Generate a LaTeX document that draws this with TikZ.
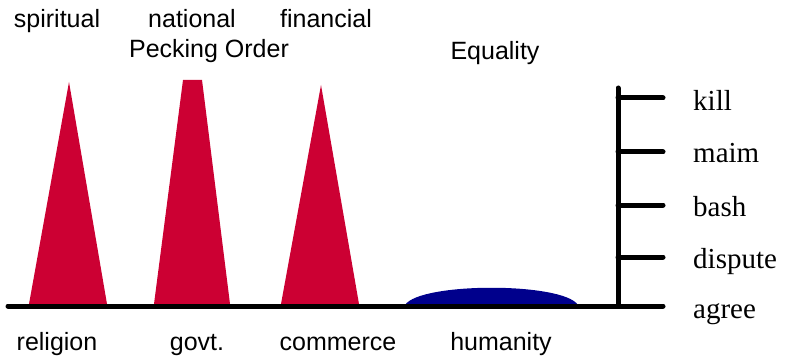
\documentclass[tikz,border=0pt]{standalone}
\usepackage{fontspec}
\setmainfont{Liberation Serif}
\setsansfont{Liberation Sans}
\usepackage{xcolor}
\definecolor{peckred}{RGB}{204,0,51}
\definecolor{equalblue}{RGB}{0,0,140}

\begin{document}
\begin{tikzpicture}[
    x=1pt, y=-1pt,
    etiqueta/.style={font=\sffamily\fontsize{25}{30}\selectfont, anchor=base, inner sep=0pt},
    nivel/.style={font=\rmfamily\fontsize{29}{34}\selectfont, anchor=base west, inner sep=0pt},
    pico/.style={fill=peckred, draw=none},
    eixo/.style={line width=5pt, line cap=round}
]
    \useasboundingbox (0,0) rectangle (789,358);

    % picos da hierarquia
    \fill[pico] (29,304) -- (69,82) -- (107,304) -- cycle;
    \fill[pico] (154,304) -- (183,80) -- (202,80) -- (230,304) -- cycle;
    \fill[pico] (281,304) -- (321,85) -- (359,304) -- cycle;
    % igualdade
    \fill[equalblue] (405,305) .. controls (420,282) and (563,282) .. (578,305) -- cycle;

    % linha de base e escala
    \draw[eixo] (8,306) -- (663,306);
    \draw[eixo] (618,306) -- (618,88);
    \foreach \y in {98,152,205,257}
        \draw[eixo] (618,\y) -- (663,\y);

    % textos de cima
    \node[etiqueta] (spiritual) at (57,28) {spiritual};
    \node[etiqueta] (national) at (192,28) {national};
    \node[etiqueta] (financial) at (326,28) {financial};
    \node[etiqueta] (pecking) at (209,58) {Pecking Order};
    \node[etiqueta] (equality) at (495,60) {Equality};

    % textos de baixo
    \node[etiqueta] (religion) at (57,350) {religion};
    \node[etiqueta] (govt) at (197,350) {govt.};
    \node[etiqueta] (commerce) at (338,350) {commerce};
    \node[etiqueta] (humanity) at (501,350) {humanity};

    % niveis da escala
    \node[nivel] (kill) at (693,111) {kill};
    \node[nivel] (maim) at (693,163) {maim};
    \node[nivel] (bash) at (693,216) {bash};
    \node[nivel] (dispute) at (693,268) {dispute};
    \node[nivel] (agree) at (693,318) {agree};
\end{tikzpicture}
\end{document}
